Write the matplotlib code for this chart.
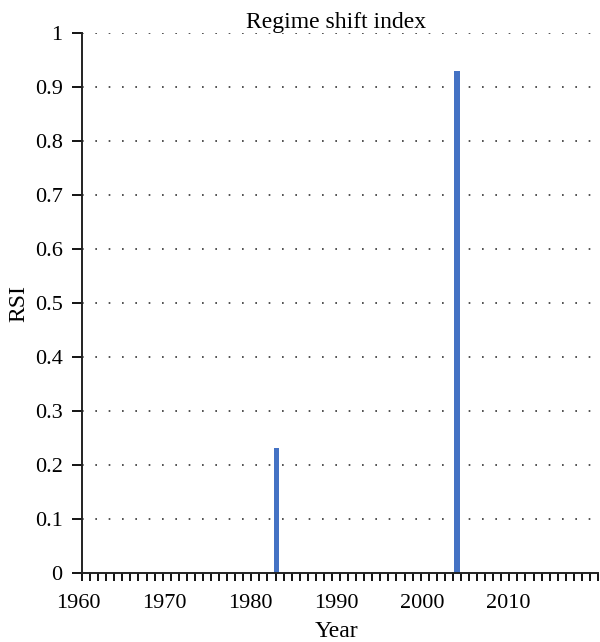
import numpy as np
from matplotlib import pyplot as plt

# regime shift years and their index values
years = [1983, 2004]
rsi = [0.232, 0.930]

decades = [1960, 1970, 1980, 1990, 2000, 2010]
yticks = [0, 0.1, 0.2, 0.3, 0.4, 0.5, 0.6, 0.7, 0.8, 0.9, 1]
ytick_labels = ['0', '0.1', '0.2', '0.3', '0.4', '0.5', '0.6', '0.7', '0.8', '0.9', '1']

plt.rcParams['font.family'] = ['Liberation Serif', 'DejaVu Serif']

fig = plt.figure(figsize=(6, 6.42), dpi=100)
ax = fig.add_axes([0.1238, 0.1075, 0.8729, 0.841])

# axis line sits a little right of the 1960 label, as in the original
x0, x1 = 1960.4, 2020.4

# spine position first: moving it resets the tick settings
for side in ['top', 'right']:
    ax.spines[side].set_visible(False)
for side in ['left', 'bottom']:
    ax.spines[side].set_linewidth(1.4)
    ax.spines[side].set_color('#222222')
ax.spines['left'].set_position(('data', x0))
ax.spines['bottom'].set_bounds(x0, x1)

ax.set_xlim(1959.5, x1)
ax.set_ylim(0, 1)

ax.hlines(yticks[1:], x0, x1, color='#333333', linestyle=(0, (1, 7)),
          linewidth=1.2, zorder=0)

ax.bar(years, rsi, width=0.6, color='#4472C4', zorder=2)

ax.set_xticks(decades)
ax.set_xticklabels([str(d) for d in decades], fontsize=16)
ax.set_xticks(np.linspace(x0, x1, 65), minor=True)
ax.tick_params(axis='x', which='major', length=0, pad=15)
ax.tick_params(axis='x', which='minor', length=6, width=1.3, direction='out')

ax.set_yticks(yticks)
ax.set_yticklabels(ytick_labels, fontsize=16)
ax.tick_params(axis='y', length=7, width=1.3, direction='out', pad=7)

ax.set_title('Regime shift index', fontsize=17, pad=3)
ax.set_xlabel('Year', fontsize=17, labelpad=6)
ax.set_ylabel('RSI', fontsize=17, labelpad=4)

plt.savefig('out.png', dpi=100)
